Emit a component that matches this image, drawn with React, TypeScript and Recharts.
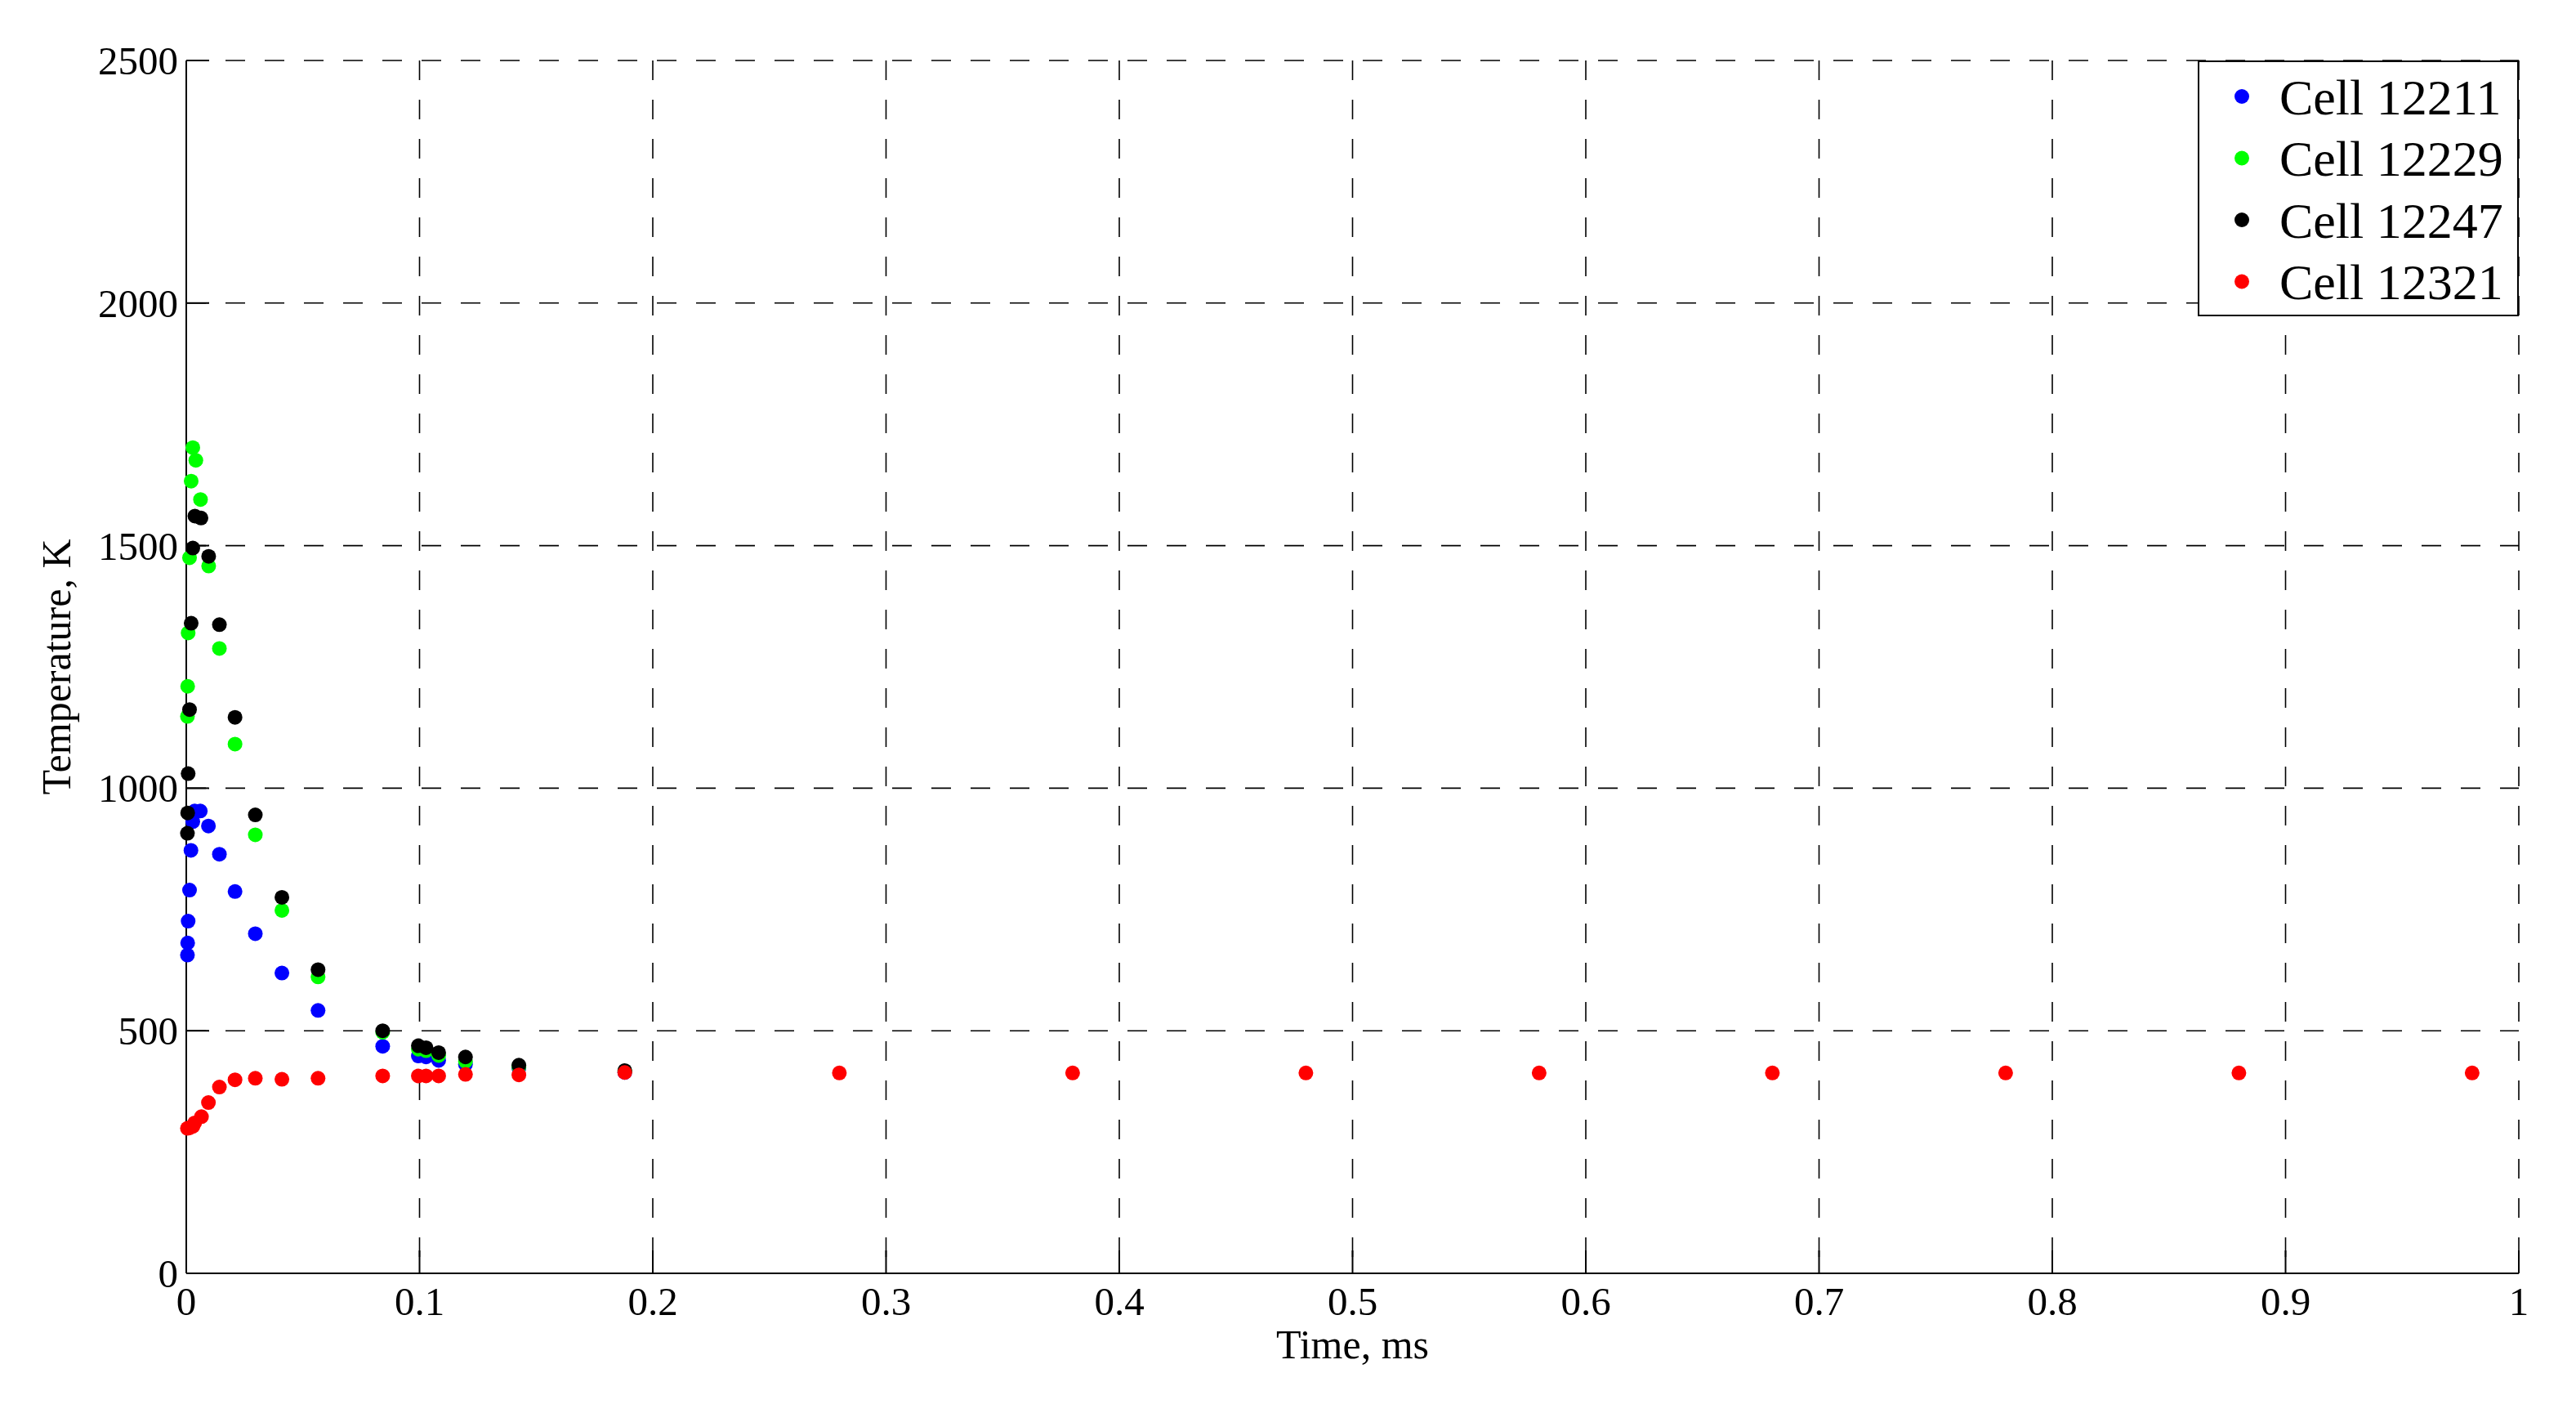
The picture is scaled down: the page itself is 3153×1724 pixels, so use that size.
import React from 'react';
import { ScatterChart, Scatter, XAxis, YAxis, CartesianGrid, Legend, Label } from 'recharts';

const FONT = '"Liberation Serif", "Times New Roman", Times, serif';

const xTicks = [0, 0.1, 0.2, 0.3, 0.4, 0.5, 0.6, 0.7, 0.8, 0.9, 1];
const yTicks = [0, 500, 1000, 1500, 2000, 2500];

const seriesNames = ['Cell 12211', 'Cell 12229', 'Cell 12247', 'Cell 12321'];
const seriesColors = ['#0000FF', '#00FF00', '#000000', '#FF0000'];

const cell12211Time = [0.0005, 0.0006, 0.0008, 0.0014, 0.002, 0.0028, 0.0036, 0.006, 0.0095, 0.0142, 0.0209, 0.0296, 0.041, 0.0565, 0.0842, 0.0995, 0.1028, 0.1082, 0.1197, 0.1426, 0.188];
const cell12211Temp = [656, 681, 726, 790, 872, 931, 953, 953, 922, 864, 787, 700, 619, 542, 468, 448, 446, 439, 431, 423, 414];

const cell12229Time = [0.0005, 0.0006, 0.0008, 0.0014, 0.0021, 0.0028, 0.0041, 0.0061, 0.0096, 0.0142, 0.0209, 0.0296, 0.041, 0.0565, 0.0842, 0.0995, 0.1028, 0.1082, 0.1197, 0.1426, 0.188];
const cell12229Temp = [1148, 1210, 1320, 1475, 1633, 1702, 1676, 1595, 1458, 1288, 1091, 904, 748, 611, 497, 462, 459, 449, 437, 426, 416];

const cell12247Time = [0.0005, 0.0006, 0.0008, 0.0014, 0.0021, 0.0028, 0.0037, 0.0063, 0.0096, 0.0142, 0.0209, 0.0296, 0.041, 0.0565, 0.0842, 0.0995, 0.1028, 0.1082, 0.1197, 0.1426, 0.188];
const cell12247Temp = [907, 949, 1030, 1162, 1340, 1495, 1561, 1557, 1478, 1337, 1146, 945, 775, 626, 500, 469, 465, 455, 446, 429, 418];

const cell12321Time = [0.0005, 0.0014, 0.0028, 0.0036, 0.0065, 0.0095, 0.0142, 0.0209, 0.0296, 0.041, 0.0565, 0.0842, 0.0995, 0.1028, 0.1082, 0.1197, 0.1426, 0.188, 0.28, 0.38, 0.48, 0.58, 0.68, 0.78, 0.88, 0.98];
const cell12321Temp = [299, 300, 303, 310, 323, 352, 384, 399, 402, 400, 402, 407, 407, 407, 407, 410, 409, 414, 413, 413, 413, 413, 413, 413, 413, 413];

const toPoints = (ts: number[], vs: number[]) => ts.map((t, i) => ({ t, T: vs[i] }));

const seriesData = [
  toPoints(cell12211Time, cell12211Temp),
  toPoints(cell12229Time, cell12229Temp),
  toPoints(cell12247Time, cell12247Temp),
  toPoints(cell12321Time, cell12321Temp),
];

const CHART_W = 3137;
const CHART_H = 1708;
const M_TOP = 66;
const M_RIGHT = 62;
const Y_W = 220;
const X_H = 158;

const dot = (color: string) => (props: any) => (
  <circle cx={props.cx} cy={props.cy} r={9} fill={color} stroke="none" />
);

const LegendBox = () => (
  <svg width={393} height={313} style={{ display: 'block' }}>
    <rect x={1} y={1} width={391} height={311} fill="#ffffff" stroke="#000" strokeWidth={2} />
    {seriesNames.map((n, i) => (
      <g key={n}>
        <circle cx={54} cy={44 + i * 75.5} r={9} fill={seriesColors[i]} />
        <text x={100} y={65.5 + i * 75.5} fontFamily={FONT} fontSize={62} fill="#000">
          {n}
        </text>
      </g>
    ))}
  </svg>
);

const XTick = (props: any) => (
  <text x={props.x} y={props.y + 35} textAnchor="middle" fontFamily={FONT} fontSize={49} fill="#000">
    {String(props.payload.value)}
  </text>
);

const YTick = (props: any) => (
  <text x={props.x} y={props.y + 17} textAnchor="end" fontFamily={FONT} fontSize={49} fill="#000">
    {String(props.payload.value)}
  </text>
);

export default function App() {
  return (
    <div style={{ width: CHART_W, height: CHART_H }}>
      <ScatterChart
        width={CHART_W}
        height={CHART_H}
        margin={{ top: M_TOP, right: M_RIGHT, bottom: 0, left: 0 }}
        style={{ fontFamily: FONT }}
      >
        <CartesianGrid stroke="#000" strokeWidth={1.6} strokeDasharray="24 24" />
        <XAxis
          dataKey="t"
          type="number"
          domain={[0, 1]}
          ticks={xTicks}
          interval={0}
          height={X_H}
          tick={XTick}
          tickSize={-28}
          tickMargin={44}
          axisLine={{ stroke: '#000', strokeWidth: 2 }}
          tickLine={{ stroke: '#000', strokeWidth: 2 }}
        >
          <Label
            content={(p: any) => {
              const vb = p.viewBox || { x: Y_W, y: CHART_H - X_H, width: CHART_W - Y_W - M_RIGHT };
              return (
                <text x={vb.x + vb.width / 2} y={vb.y + 104} textAnchor="middle" fontFamily={FONT} fontSize={50} fill="#000">
                  Time, ms
                </text>
              );
            }}
          />
        </XAxis>
        <XAxis
          xAxisId="top"
          orientation="top"
          type="number"
          domain={[0, 1]}
          ticks={xTicks}
          interval={0}
          height={0}
          tick={false}
          tickSize={-28}
          axisLine={{ stroke: '#000', strokeWidth: 2 }}
          tickLine={{ stroke: '#000', strokeWidth: 2 }}
        />
        <YAxis
          dataKey="T"
          type="number"
          domain={[0, 2500]}
          ticks={yTicks}
          interval={0}
          width={Y_W}
          tick={YTick}
          tickSize={-28}
          tickMargin={38}
          axisLine={{ stroke: '#000', strokeWidth: 2 }}
          tickLine={{ stroke: '#000', strokeWidth: 2 }}
        >
          <Label
            content={(p: any) => {
              const vb = p.viewBox || { x: 0, y: M_TOP, height: CHART_H - M_TOP - X_H };
              const cx = vb.x + 78;
              const cy = vb.y + vb.height / 2;
              return (
                <text x={cx} y={cy} transform={`rotate(-90, ${cx}, ${cy})`} textAnchor="middle" fontFamily={FONT} fontSize={50} fill="#000">
                  Temperature, K
                </text>
              );
            }}
          />
        </YAxis>
        <YAxis
          yAxisId="right"
          orientation="right"
          type="number"
          domain={[0, 2500]}
          ticks={yTicks}
          interval={0}
          width={0}
          tick={false}
          tickSize={-28}
          axisLine={{ stroke: '#000', strokeWidth: 2 }}
          tickLine={{ stroke: '#000', strokeWidth: 2 }}
        />
        {seriesData.map((d, i) => (
          <Scatter
            key={seriesNames[i]}
            name={seriesNames[i]}
            data={d}
            fill={seriesColors[i]}
            shape={dot(seriesColors[i])}
            isAnimationActive={false}
          />
        ))}
        <Legend
          layout="vertical"
          align="center"
          verticalAlign="middle"
          width={393}
          height={313}
          wrapperStyle={{ position: 'absolute', left: 2682, top: 66, width: 393, height: 313, margin: 0 }}
          content={() => <LegendBox />}
        />
      </ScatterChart>
    </div>
  );
}
